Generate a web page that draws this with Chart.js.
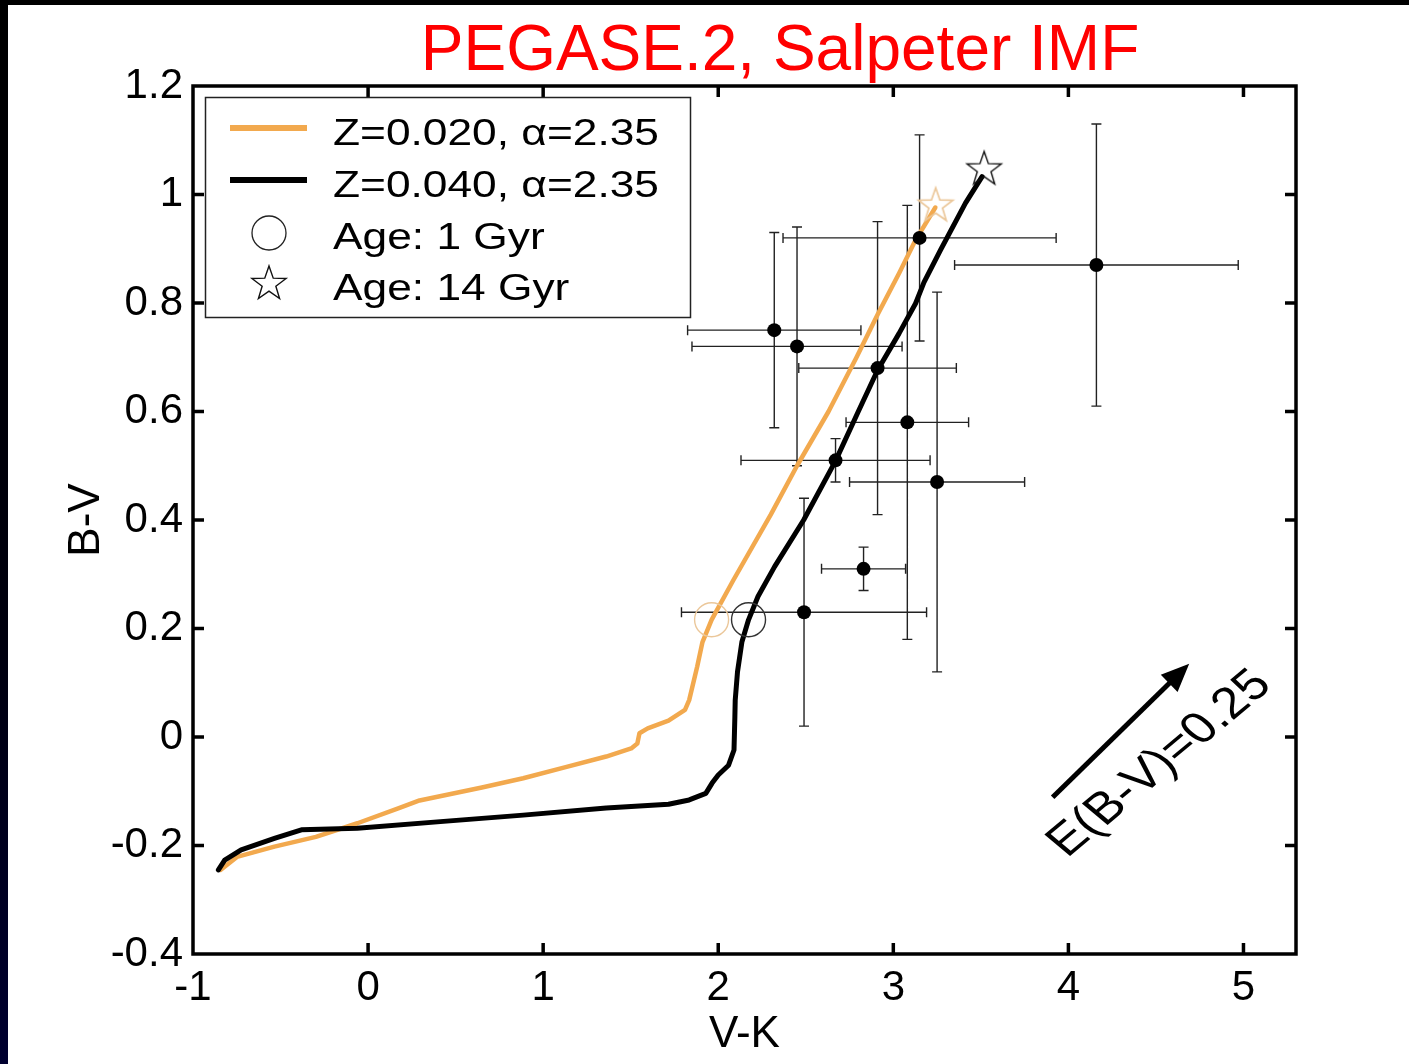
<!DOCTYPE html>
<html>
<head>
<meta charset="utf-8">
<title>PEGASE.2, Salpeter IMF</title>
<script src="https://cdn.jsdelivr.net/npm/chart.js@4.4.1/dist/chart.umd.min.js"></script>
<style>
  html, body { margin: 0; padding: 0; background: #fff; }
  #wrap { width: 1409px; height: 1064px; }
</style>
</head>
<body>
<div id="wrap"><canvas id="cmd" width="1409" height="1064"></canvas></div>
<script>
// ---- data (V-K, B-V) ----
const z020Track = [
  [-0.843, -0.245], [-0.749, -0.221], [-0.535, -0.202], [-0.298, -0.184], [-0.061, -0.159],
  [0.176, -0.131], [0.294, -0.117], [0.650, -0.093], [0.886, -0.076], [1.123, -0.056],
  [1.360, -0.036], [1.503, -0.021], [1.538, -0.012], [1.550, 0.007], [1.597, 0.016],
  [1.716, 0.030], [1.810, 0.050], [1.834, 0.068], [1.880, 0.130], [1.910, 0.175],
  [1.962, 0.216], [2.086, 0.289], [2.300, 0.410], [2.450, 0.500], [2.630, 0.600],
  [2.790, 0.700], [2.914, 0.781], [3.033, 0.855], [3.127, 0.916], [3.240, 0.976],
];
const z040Track = [
  [-0.855, -0.245], [-0.819, -0.227], [-0.725, -0.208], [-0.535, -0.187], [-0.381, -0.171],
  [-0.061, -0.168], [0.413, -0.156], [0.886, -0.144], [1.360, -0.131], [1.716, -0.124],
  [1.834, -0.116], [1.929, -0.104], [1.965, -0.085], [2.000, -0.070], [2.059, -0.052],
  [2.090, -0.024], [2.095, 0.037], [2.097, 0.068], [2.110, 0.120], [2.135, 0.175],
  [2.173, 0.216], [2.227, 0.259], [2.322, 0.314], [2.488, 0.400], [2.670, 0.509],
  [2.800, 0.600], [2.910, 0.676], [3.033, 0.744], [3.127, 0.799], [3.175, 0.838],
  [3.270, 0.898], [3.412, 0.984], [3.507, 1.033],
];

// observed clusters with symmetric errors
const obsVK    = [3.15, 4.16, 2.32, 2.45, 2.91, 3.08, 2.67, 3.25, 2.83, 2.49];
const obsVKerr = [0.78, 0.81, 0.495, 0.60, 0.45, 0.35, 0.54, 0.50, 0.24, 0.70];
const obsBV    = [0.92, 0.87, 0.75, 0.72, 0.68, 0.58, 0.51, 0.47, 0.31, 0.23];
const obsBVerr = [0.19, 0.26, 0.18, 0.22, 0.27, 0.40, 0.04, 0.35, 0.04, 0.21];

// age markers: [Z=0.020, Z=0.040]
const age1VK  = [1.962, 2.173];
const age1BV  = [0.216, 0.216];
const age14VK = [3.242, 3.519];
const age14BV = [0.981, 1.048];

// reddening vector, E(B-V)=0.25
const reddenFrom = [3.91, -0.111];
const reddenTo   = [4.69, 0.135];

const xTicks = [-1, 0, 1, 2, 3, 4, 5];
const yTicks = [-0.4, -0.2, 0, 0.2, 0.4, 0.6, 0.8, 1.0, 1.2];
const legendLabels = ['Z=0.020, \u03B1=2.35', 'Z=0.040, \u03B1=2.35', 'Age: 1 Gyr', 'Age: 14 Gyr'];
const titleText = 'PEGASE.2, Salpeter IMF';

// ---- styling ----
const FONT = "'Liberation Sans', Arial, Helvetica, sans-serif";
const ORANGE = '#F2A94E';
const ORANGE_FAINT = '#EBC79A';
const INK = '#000';

const toXY = arr => arr.map(p => ({ x: p[0], y: p[1] }));
const zip = (xs, ys) => xs.map((x, i) => ({ x, y: ys[i] }));

function starImage(color, r, lw) {
  const s = Math.ceil(r * 2 + 6);
  const c = document.createElement('canvas');
  c.width = c.height = s;
  const g = c.getContext('2d');
  g.beginPath();
  for (let i = 0; i < 10; i++) {
    const rr = i % 2 ? r * 0.4 : r;
    const a = -Math.PI / 2 + i * Math.PI / 5;
    g.lineTo(s / 2 + rr * Math.cos(a), s / 2 + 1 + rr * Math.sin(a));
  }
  g.closePath();
  g.strokeStyle = color; g.lineWidth = lw; g.lineJoin = 'miter';
  g.stroke();
  return c;
}
const starOrange = starImage(ORANGE_FAINT, 18, 1.7);
const starBlack = starImage('#111', 18, 1.4);

// page background + slide border strips + title
const pagePlugin = {
  id: 'page',
  beforeDraw(chart) {
    const { ctx, width, height } = chart;
    ctx.save();
    ctx.fillStyle = '#fff'; ctx.fillRect(0, 0, width, height);
    const g = ctx.createLinearGradient(0, 0, 0, height);
    g.addColorStop(0, '#000'); g.addColorStop(0.6, '#00000e'); g.addColorStop(1, '#000030');
    ctx.fillStyle = g; ctx.fillRect(0, 0, 8, height);
    ctx.fillStyle = '#000'; ctx.fillRect(0, 0, width, 5);
    ctx.restore();
  },
  afterDraw(chart) {
    const ctx = chart.ctx;
    ctx.save();
    ctx.font = `64px ${FONT}`;
    ctx.fillStyle = '#ff0000'; ctx.textAlign = 'center'; ctx.textBaseline = 'alphabetic';
    ctx.fillText(titleText, 780, 70);
    ctx.restore();
  },
};

// error bars under the points
const errorBarPlugin = {
  id: 'errorBars',
  beforeDatasetsDraw(chart) {
    const { ctx, scales: { x, y } } = chart;
    const cap = 5;
    ctx.save();
    ctx.strokeStyle = '#222'; ctx.lineWidth = 1.4;
    ctx.beginPath();
    obsVK.forEach((vk, i) => {
      const px = x.getPixelForValue(vk), py = y.getPixelForValue(obsBV[i]);
      const x0 = x.getPixelForValue(vk - obsVKerr[i]), x1 = x.getPixelForValue(vk + obsVKerr[i]);
      const y0 = y.getPixelForValue(obsBV[i] - obsBVerr[i]), y1 = y.getPixelForValue(obsBV[i] + obsBVerr[i]);
      ctx.moveTo(x0, py); ctx.lineTo(x1, py);
      ctx.moveTo(x0, py - cap); ctx.lineTo(x0, py + cap);
      ctx.moveTo(x1, py - cap); ctx.lineTo(x1, py + cap);
      ctx.moveTo(px, y0); ctx.lineTo(px, y1);
      ctx.moveTo(px - cap, y0); ctx.lineTo(px + cap, y0);
      ctx.moveTo(px - cap, y1); ctx.lineTo(px + cap, y1);
    });
    ctx.stroke();
    ctx.restore();
  },
};

// box frame with inward ticks on all four sides, reddening arrow
const framePlugin = {
  id: 'frame',
  afterDatasetsDraw(chart) {
    const { ctx, chartArea: a, scales: { x, y } } = chart;
    ctx.save();
    // reddening arrow
    const sx = x.getPixelForValue(reddenFrom[0]), sy = y.getPixelForValue(reddenFrom[1]);
    const tx = x.getPixelForValue(reddenTo[0]), ty = y.getPixelForValue(reddenTo[1]);
    const ang = Math.atan2(ty - sy, tx - sx);
    const hl = 28, hw = 12;
    const bx = tx - hl * Math.cos(ang), by = ty - hl * Math.sin(ang);
    ctx.strokeStyle = INK; ctx.lineWidth = 5; ctx.lineCap = 'butt';
    ctx.beginPath(); ctx.moveTo(sx, sy); ctx.lineTo(bx + 2 * Math.cos(ang), by + 2 * Math.sin(ang)); ctx.stroke();
    ctx.fillStyle = INK;
    ctx.beginPath();
    ctx.moveTo(tx, ty);
    ctx.lineTo(bx + hw * Math.sin(ang), by - hw * Math.cos(ang));
    ctx.lineTo(bx - hw * Math.sin(ang), by + hw * Math.cos(ang));
    ctx.closePath(); ctx.fill();
    // its label, slanted along the arrow
    ctx.save();
    ctx.translate(1160, 764);
    ctx.scale(1.2, 1);
    ctx.rotate(-Math.PI / 4);
    ctx.font = `44px ${FONT}`; ctx.textAlign = 'center'; ctx.textBaseline = 'middle';
    ctx.fillText('E(B-V)=0.25', 0, 0);
    ctx.restore();

    // frame
    ctx.strokeStyle = INK; ctx.lineWidth = 3.5; ctx.lineJoin = 'miter';
    ctx.strokeRect(a.left, a.top, a.right - a.left, a.bottom - a.top);
    const tl = 11;
    ctx.beginPath();
    x.ticks.forEach(t => {
      const px = x.getPixelForValue(t.value);
      if (Math.abs(px - a.left) < 2 || Math.abs(px - a.right) < 2) return;
      ctx.moveTo(px, a.bottom); ctx.lineTo(px, a.bottom - tl);
      ctx.moveTo(px, a.top); ctx.lineTo(px, a.top + tl);
    });
    y.ticks.forEach(t => {
      const py = y.getPixelForValue(t.value);
      if (Math.abs(py - a.top) < 2 || Math.abs(py - a.bottom) < 2) return;
      ctx.moveTo(a.left, py); ctx.lineTo(a.left + tl, py);
      ctx.moveTo(a.right, py); ctx.lineTo(a.right - tl, py);
    });
    ctx.stroke();
    ctx.restore();
  },
};

// boxed legend in the upper-left of the axes
const legendPlugin = {
  id: 'boxLegend',
  afterDraw(chart) {
    const { ctx, chartArea: a } = chart;
    const L = a.left + 12, T = a.top + 11, W = 485, H = 220;
    ctx.save();
    ctx.fillStyle = '#fff'; ctx.fillRect(L, T, W, H);
    ctx.strokeStyle = '#222'; ctx.lineWidth = 1.5; ctx.strokeRect(L + 0.5, T + 0.5, W, H);
    const rows = [T + 35, T + 87, T + 139, T + 190];
    const sym0 = L + 25, sym1 = L + 102, symC = L + 64;
    ctx.lineWidth = 6; ctx.lineCap = 'butt';
    ctx.strokeStyle = ORANGE;
    ctx.beginPath(); ctx.moveTo(sym0, rows[0] - 4); ctx.lineTo(sym1, rows[0] - 4); ctx.stroke();
    ctx.strokeStyle = INK;
    ctx.beginPath(); ctx.moveTo(sym0, rows[1] - 4); ctx.lineTo(sym1, rows[1] - 4); ctx.stroke();
    ctx.lineWidth = 1.3; ctx.strokeStyle = '#222';
    ctx.beginPath(); ctx.arc(symC, rows[2] - 3, 17, 0, Math.PI * 2); ctx.stroke();
    ctx.drawImage(starBlack, symC - starBlack.width / 2, rows[3] - 4 - starBlack.height / 2);
    ctx.fillStyle = INK; ctx.font = `36px ${FONT}`; ctx.textBaseline = 'alphabetic'; ctx.textAlign = 'left';
    legendLabels.forEach((txt, i) => {
      ctx.save();
      ctx.translate(L + 128, rows[i] + 13);
      ctx.scale(1.23, 1);
      ctx.fillText(txt, 0, 0);
      ctx.restore();
    });
    ctx.restore();
  },
};

const tickFont = { family: FONT, size: 42 };

new Chart(document.getElementById('cmd'), {
  type: 'scatter',
  data: {
    datasets: [
      { label: 'clusters', data: zip(obsVK, obsBV), pointRadius: 7, pointBackgroundColor: INK,
        pointBorderWidth: 0, showLine: false },
      { label: 'Age: 14 Gyr', data: zip(age14VK, age14BV), pointStyle: [starOrange, starBlack],
        pointRadius: 18, showLine: false },
      { label: 'Age: 1 Gyr', data: zip(age1VK, age1BV), pointStyle: 'circle', pointRadius: 17,
        pointBackgroundColor: 'rgba(0,0,0,0)', pointBorderColor: [ORANGE_FAINT, '#333'],
        pointBorderWidth: 1.4, showLine: false },
      { label: legendLabels[1], data: toXY(z040Track), showLine: true, borderColor: INK,
        borderWidth: 5, pointRadius: 0, tension: 0, borderJoinStyle: 'round', borderCapStyle: 'round' },
      { label: legendLabels[0], data: toXY(z020Track), showLine: true, borderColor: ORANGE,
        borderWidth: 4.5, pointRadius: 0, tension: 0, borderJoinStyle: 'round', borderCapStyle: 'round' },
    ],
  },
  options: {
    responsive: false,
    animation: false,
    events: [],
    layout: { padding: { top: 86, right: 113, left: 0, bottom: 0 } },
    scales: {
      x: {
        type: 'linear', min: -1, max: 5.3,
        afterBuildTicks: s => { s.ticks = xTicks.map(v => ({ value: v })); },
        afterFit: s => { s.height = 110; },
        grid: { display: false, drawTicks: false }, border: { display: false },
        ticks: { font: tickFont, color: INK, padding: 9, maxRotation: 0, callback: v => String(v) },
        title: { display: true, text: 'V-K', color: INK, font: { family: FONT, size: 44 },
          padding: { top: 0, bottom: 3 } },
      },
      y: {
        type: 'linear', min: -0.4, max: 1.2,
        afterBuildTicks: s => { s.ticks = yTicks.map(v => ({ value: v })); },
        afterFit: s => { s.width = 193; },
        grid: { display: false, drawTicks: false }, border: { display: false },
        ticks: { font: tickFont, color: INK, padding: 10,
          callback: v => String(Math.round(v * 10) / 10) },
        title: { display: true, text: 'B-V', color: INK, font: { family: FONT, size: 44 },
          padding: { top: 60, bottom: 0 } },
      },
    },
    plugins: {
      legend: { display: false },
      tooltip: { enabled: false },
      title: { display: false },
    },
  },
  plugins: [pagePlugin, errorBarPlugin, framePlugin, legendPlugin],
});
</script>
</body>
</html>
